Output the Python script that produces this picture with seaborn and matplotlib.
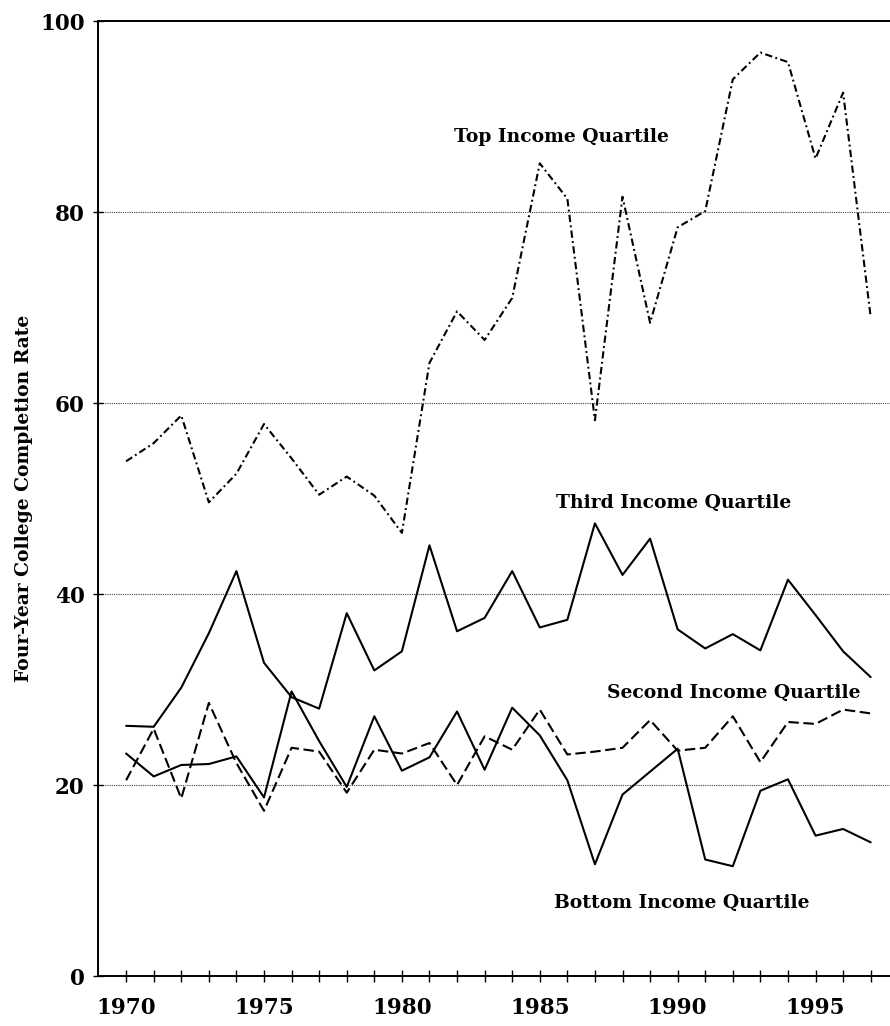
import matplotlib
matplotlib.use("Agg")
import matplotlib.pyplot as plt
import seaborn as sns
import pandas as pd
import numpy as np

years = list(range(1970, 1998))

top_q = [53.9, 55.8, 58.7, 49.6, 52.6, 57.8, 54.2, 50.4, 52.3, 50.3, 46.4,
         64.2, 69.6, 66.6, 71.0, 85.1, 81.4, 58.2, 81.6, 68.4, 78.4, 80.1,
         93.9, 96.7, 95.7, 85.6, 92.5, 69.0]
third_q = [26.2, 26.1, 30.2, 35.9, 42.4, 32.8, 29.2, 28.0, 38.0, 32.0, 34.0,
           45.1, 36.1, 37.5, 42.4, 36.5, 37.3, 47.4, 42.0, 45.8, 36.3, 34.3,
           35.8, 34.1, 41.5, 37.8, 34.0, 31.3]
second_q = [20.5, 25.9, 18.6, 28.6, 22.3, 17.3, 23.9, 23.5, 19.2, 23.7, 23.3,
            24.4, 20.0, 25.1, 23.7, 27.9, 23.2, 23.5, 23.9, 26.8, 23.6, 23.9,
            27.2, 22.4, 26.6, 26.4, 27.9, 27.5]
bottom_q = [23.3, 20.9, 22.1, 22.2, 23.0, 18.7, 29.8, 24.6, 19.8, 27.2, 21.5,
            22.9, 27.7, 21.6, 28.1, 25.2, 20.5, 11.7, 19.0, 21.4, 23.8, 12.2,
            11.5, 19.4, 20.6, 14.7, 15.4, 14.0]

labels = ["Top Income Quartile", "Third Income Quartile",
          "Second Income Quartile", "Bottom Income Quartile"]
label_x = [1985.77, 1989.87, 1992.05, 1990.16]
label_y = [87.9, 49.5, 29.7, 7.7]

yticks = [0, 20, 40, 60, 80, 100]
xticks_major = [1970, 1975, 1980, 1985, 1990, 1995]
ylabel = "Four-Year College Completion Rate"

sns.set_style("white")
plt.rcParams["font.family"] = ["DejaVu Serif"]
plt.rcParams["text.color"] = "black"
plt.rcParams["axes.labelcolor"] = "black"
plt.rcParams["xtick.color"] = "black"
plt.rcParams["ytick.color"] = "black"

fig = plt.figure(figsize=(8.9, 10.26), dpi=100)
ax = fig.add_axes([0.1101, 0.0487, 0.8899, 0.9308])

lw = 1.5
styles = {
    "top": (0, (3.5, 1.6, 0.9, 1.6)),
    "third": "-",
    "second": (0, (5.0, 2.2)),
    "bottom": "-",
}
series = {"top": top_q, "third": third_q, "second": second_q, "bottom": bottom_q}
for key, vals in series.items():
    df = pd.DataFrame({"year": years, "rate": vals})
    sns.lineplot(data=df, x="year", y="rate", ax=ax, color="black",
                 linewidth=lw, linestyle=styles[key])

# grid lines
for yv in yticks[1:-1]:
    ax.axhline(yv, color="#444444", linewidth=0.8, linestyle=(0, (1, 1)), zorder=0)

ax.set_xlim(1968.98, 1997.7)
ax.set_ylim(0, 100)

ax.set_xticks(xticks_major)
ax.set_xticks(years, minor=True)
ax.set_xticklabels([str(x) for x in xticks_major])
ax.set_yticks(yticks)
ax.set_yticklabels([str(y) for y in yticks])

for t in ax.get_xticklabels() + ax.get_yticklabels():
    t.set_fontsize(15.5)
    t.set_fontweight("bold")
    t.set_color("black")

ax.tick_params(axis="x", which="both", bottom=True, direction="inout",
               length=8.5, width=1.0, color="black", pad=11)
ax.tick_params(axis="y", which="major", left=True, direction="inout",
               length=7, width=1.0, color="black", pad=6)

for side in ["left", "bottom", "top"]:
    ax.spines[side].set_visible(True)
    ax.spines[side].set_color("black")
    ax.spines[side].set_linewidth(1.4)
ax.spines["right"].set_visible(False)

ax.set_xlabel("")
ax.set_ylabel(ylabel, fontsize=13.5, fontweight="bold", labelpad=5,
              color="black")

for txt, xx, yy in zip(labels, label_x, label_y):
    ax.text(xx, yy, txt, ha="center", va="center", fontsize=13.5,
            fontweight="bold", color="black")

fig.savefig("out.png", dpi=100)
